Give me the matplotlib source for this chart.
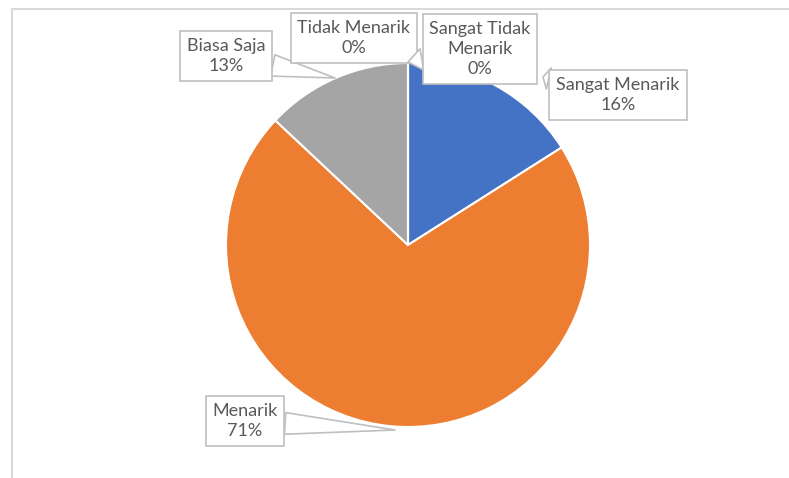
import matplotlib.pyplot as plt
from matplotlib.patches import Rectangle

labels = ["Sangat Menarik", "Menarik", "Biasa Saja", "Tidak Menarik", "Sangat Tidak\nMenarik"]
values = [16, 71, 13, 0, 0]
colors = ["#4472c4", "#ed7d31", "#a5a5a5", "#ffc000", "#5b9bd5"]

W, H = 789, 478
fig = plt.figure(figsize=(W / 100, H / 100), dpi=100)
fig.patch.set_facecolor("white")
ax = fig.add_axes([0, 0, 1, 1])

# chart area border (only top and left visible)
fig.patches.append(Rectangle((12 / W, -0.1), 1.2, (H - 9) / H + 0.1, transform=fig.transFigure,
                             fill=False, ec="#d9d9d9", lw=1.5))

cx, cy, r = 408, H - 245, 182
ax.pie(values, colors=colors, startangle=90, counterclock=False, center=(cx, cy), radius=r,
       wedgeprops=dict(edgecolor="white", linewidth=1.5))
ax.set_xlim(0, W)
ax.set_ylim(0, H)
ax.set_aspect("equal")
ax.axis("off")

# label box centres and pointer tips, in pixels from top-left
boxes = {
    "Sangat Menarik": ((618, 95), (543, 77)),
    "Menarik": ((245, 421), (395, 430)),
    "Biasa Saja": ((226, 56), (335, 78)),
    "Tidak Menarik": ((354, 38), (410, 62)),
    "Sangat Tidak\nMenarik": ((480, 49), (408, 62)),
}

for lab, v in zip(labels, values):
    (bx, by), (tx, ty) = boxes[lab]
    ax.annotate(f"{lab}\n{v}%", xy=(tx, H - ty), xytext=(bx, H - by),
                ha="center", va="center", fontsize=13, color="#595959",
                family=["Lato", "DejaVu Sans"], linespacing=1.3,
                bbox=dict(boxstyle="square,pad=0.38", fc="white", ec="#bfbfbf", lw=1.2),
                arrowprops=dict(arrowstyle="wedge,tail_width=1.2,shrink_factor=0.5",
                                fc="white", ec="#bfbfbf", lw=1.2,
                                shrinkA=0, shrinkB=0))

fig.savefig("out.png", dpi=100, facecolor="white")
